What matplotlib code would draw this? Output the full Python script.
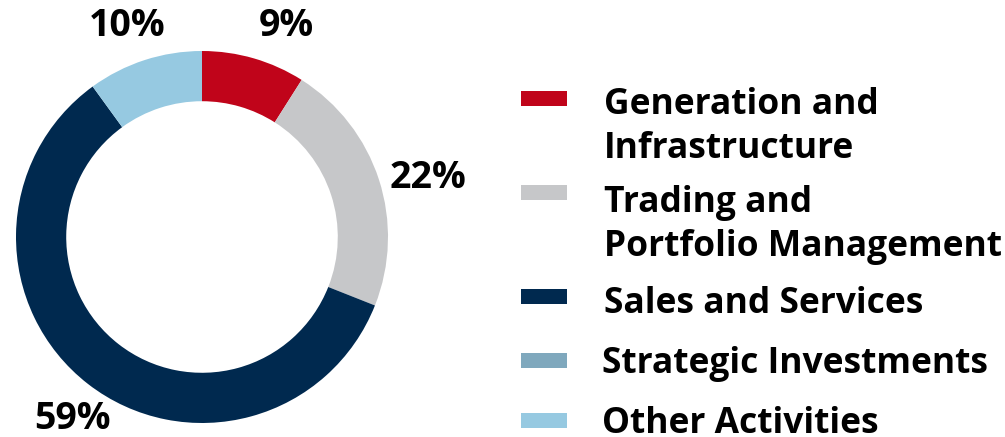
import numpy as np
import matplotlib
matplotlib.use("Agg")
import matplotlib.pyplot as plt
from matplotlib.patches import Rectangle

plt.rcParams['font.family'] = ['Open Sans', 'DejaVu Sans']

segments = [['Generation and', 'Infrastructure'], ['Trading and', 'Portfolio Management'],
            ['Sales and Services'], ['Strategic Investments'], ['Other Activities']]
shares = [9, 22, 59, 0, 10]
colors = ['#C0041A', '#C6C7C9', '#00294F', '#7FA8BD', '#96C9E1']
# pixel nudges for the percentage labels
label_off = [(22, -3), (14, -10), (7, -6), (0, 0), (-6, -1)]

W, H = 1005, 437
fig = plt.figure(figsize=(W / 100, H / 100), dpi=100)

# donut
cx, cy, R = 202, 237, 186
ax = fig.add_axes([(cx - R) / W, (H - cy - R) / H, 2 * R / W, 2 * R / H])
wedges, _ = ax.pie(shares, colors=colors, startangle=90, counterclock=False,
                   radius=1, wedgeprops=dict(width=0.27, linewidth=0))
ax.set_xlim(-1, 1)
ax.set_ylim(-1, 1)
ax.set_aspect('equal')
ax.axis('off')

for w, s, off in zip(wedges, shares, label_off):
    if s == 0:
        continue
    mid = np.deg2rad((w.theta1 + w.theta2) / 2)
    ax.annotate(f'{s}%', (1.2 * np.cos(mid), 1.2 * np.sin(mid)), xytext=off,
                textcoords='offset pixels', ha='center', va='center',
                fontsize=27, fontweight='bold', annotation_clip=False)

# legend drawn in pixel space
lax = fig.add_axes([0, 0, 1, 1])
lax.set_xlim(0, W)
lax.set_ylim(H, 0)
lax.axis('off')
key_y = [98, 192, 296, 360, 420]
base_y = [114, 212, 313, 373, 433]
text_x = [604, 604, 604, 602, 602]
for lines, c, ky, by, tx in zip(segments, colors, key_y, base_y, text_x):
    lax.add_patch(Rectangle((521, ky - 7.5), 46, 15, color=c, lw=0))
    for i, line in enumerate(lines):
        lax.text(tx, by + 44 * i, line, ha='left', va='baseline',
                 fontsize=25.5, fontweight='bold')

fig.savefig('out.png', dpi=100)
